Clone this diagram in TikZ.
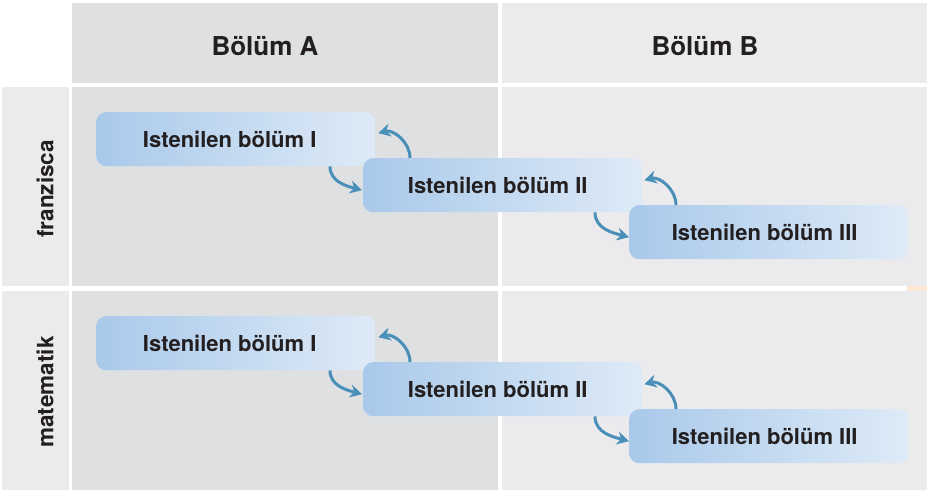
\documentclass[tikz,border=0pt]{standalone}
\usepackage{fontspec}
\setmainfont{TeX Gyre Heros}
\usetikzlibrary{arrows.meta,calc}
\definecolor{cellA}{HTML}{DFE0E2}
\definecolor{cellB}{HTML}{EBEBED}
\definecolor{boxL}{HTML}{A9C9EA}
\definecolor{boxR}{HTML}{DEEAF7}
\definecolor{arr}{HTML}{4A8FB8}
\definecolor{txt}{HTML}{231F20}
\definecolor{peach}{HTML}{FDE6D2}
\begin{document}
\begin{tikzpicture}[x=1pt,y=1pt,
  box/.style={rounded corners=10pt, minimum width=279pt, minimum height=54pt,
    inner sep=0pt, left color=boxL, right color=boxR,
    font=\fontsize{22}{24}\selectfont\bfseries, text=txt, anchor=north west},
  head/.style={font=\fontsize{26}{30}\selectfont\bfseries, text=txt, anchor=base, inner sep=0pt},
  side/.style={font=\fontsize{22.5}{26}\selectfont\bfseries, text=txt, rotate=90, inner sep=0pt},
  flow/.style={draw=arr, line width=3pt, -{Stealth[length=12pt,width=13pt]}}]
\useasboundingbox (0,0) rectangle (927,-490);
\fill[white] (0,0) rectangle (927,-490);
% header cells
\fill[cellA] (72,-3) rectangle (498,-83);
\fill[cellB] (502,-3) rectangle (927,-83);
% row cells
\fill[cellB] (2,-87) rectangle (69,-286);
\fill[cellA] (72,-87) rectangle (498,-286);
\fill[cellB] (502,-87) rectangle (927,-286);
\fill[cellB] (2,-291) rectangle (69,-490);
\fill[cellA] (72,-291) rectangle (498,-490);
\fill[cellB] (502,-291) rectangle (927,-490);
\fill[peach] (907,-286) rectangle (927,-291);
% headers
\node[head] (hA) at (265,-55) {Bölüm A};
\node[head] (hB) at (705,-55) {Bölüm B};
\node[side] (l1) at (45,-189) {franzisca};
\node[side] (l2) at (45,-392) {matematik};
% boxes and arrows
\foreach \r/\dy in {1/0,2/204}{
  \node[box] (a\r) at (96,-112-\dy) {Istenilen bölüm I\hspace*{12pt}};
  \node[box] (b\r) at (363,-158-\dy) {Istenilen bölüm II\hspace*{10pt}};
  \node[box] (c\r) at (629,-205-\dy) {Istenilen bölüm III\hspace*{8pt}};
  \draw[flow] ($(b\r.north west)+(47,0)$) to[out=90,in=15] ($(a\r.east)+(3,6)$);
  \draw[flow] ($(a\r.south west)+(234,0)$) to[out=-90,in=165] ($(b\r.west)+(-1,-5)$);
  \draw[flow] ($(c\r.north west)+(47,0)$) to[out=90,in=15] ($(b\r.east)+(2,5)$);
  \draw[flow] ($(b\r.south west)+(232,0)$) to[out=-90,in=165] ($(c\r.west)+(0,-5)$);
}
\end{tikzpicture}
\end{document}
